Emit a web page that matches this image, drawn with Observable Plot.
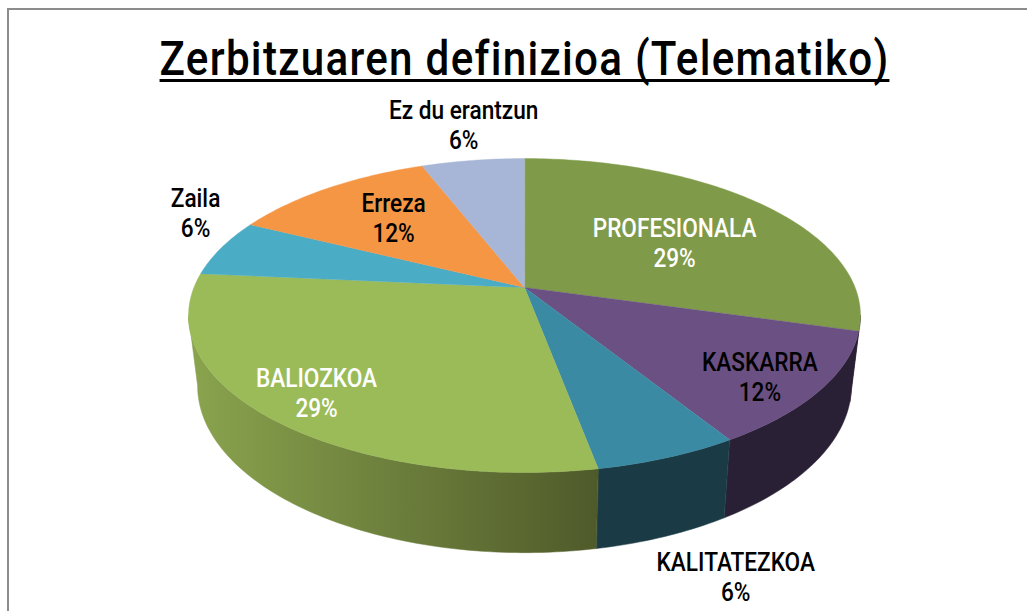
<!DOCTYPE html>
<html>
<head>
<meta charset="utf-8">
<script src="https://cdn.jsdelivr.net/npm/d3@7"></script>
<script src="https://cdn.jsdelivr.net/npm/@observablehq/plot@0.6"></script>
<style>
  html, body { margin: 0; padding: 0; background: #fff; overflow: hidden; width: 1027px; height: 611px; }
  #wrap { position: relative; width: 1027px; height: 611px; overflow: hidden; }
  #border { position: absolute; left: 7px; top: 8px; width: 1040px; height: 640px; border: 2px solid #8c8c8c; border-right: 0; border-bottom: 0; }
  #title { position: absolute; left: 0; width: 1049px; top: 30px; text-align: center; color: #000; white-space: nowrap;
    font: 500 49px/1.2 Roboto, "Liberation Sans", sans-serif; letter-spacing: 1.5px; text-decoration: underline; text-decoration-thickness: 3px; text-underline-offset: 4px; text-decoration-skip-ink: none;
    transform: scaleX(0.86); transform-origin: 524.5px 0; }
  #chart { position: absolute; left: 0; top: 0; }
  #chart svg { display: block; }
</style>
</head>
<body>
<div id="wrap">
  <div id="border"></div>
  <div id="chart"></div>
  <div id="title">Zerbitzuaren definizioa (Telematiko)</div>
</div>
<script>
// Data
const categories = ["PROFESIONALA", "KASKARRA", "KALITATEZKOA", "BALIOZKOA", "Zaila", "Erreza", "Ez du erantzun"];
const counts = [5, 2, 1, 5, 1, 2, 1];
const percentLabels = ["29%", "12%", "6%", "29%", "6%", "12%", "6%"];

// Styling
const topColors = ["#7f9a48", "#6a5083", "#3b8aa3", "#9bbb59", "#4bacc6", "#f59645", "#a7b6d6"];
const sideRamps = [
  ["#2a2035", "#2a2035"], ["#2a2035", "#2a2035"], ["#1a3b45", "#1a3b45"],
  ["#8aa44e", "#4f5a2a"], ["#2c6577", "#2c6577"], ["#93592a", "#93592a"], ["#62708a", "#62708a"]
];
const labelColors = ["#fff", "#000", "#000", "#fff", "#000", "#000", "#000"];
// label centres, in pie units (same scales as the pie)
const labelUnitX = [0.454, 0.712, 0.639, -0.629, -0.995, -0.396, -0.184];
const labelUnitY = [0.289, -0.592, -1.908, -0.697, 0.487, 0.454, 1.0625];

// Perspective of the pie disc, and the shift to its lower rim
const tilt = 0.1786;
const project = (a, r = 1) => {
  const X = r * Math.sin(a), Y = r * Math.cos(a), w = 1 + tilt * Y;
  return { x: X / w, y: Y / w };
};
const lower = (p) => ({ x: 0.973 * p.x, y: 1.064 * p.y - 0.449 });

const arcs = d3.pie().sort(null).value((d) => d)(counts);
const step = Math.PI / 180;
const sweep = (a0, a1) => {
  const n = Math.max(1, Math.ceil((a1 - a0) / step));
  return d3.range(n + 1).map((k) => a0 + (a1 - a0) * k / n);
};

// Top face: apex plus the arc, one closed polygon for each slice
const topFaces = arcs.flatMap((arc, i) => [
  { id: i, color: topColors[i], ...project(0, 0) },
  ...sweep(arc.startAngle, arc.endAngle).map((a) => ({ id: i, color: topColors[i], ...project(a) }))
]);

// Side wall: only the part of the rim between the two silhouette angles shows
const frontStart = (100.25 * Math.PI) / 180, frontEnd = (259.75 * Math.PI) / 180;
const sideWalls = arcs.map((arc, i) => {
  const a0 = Math.max(arc.startAngle, frontStart), a1 = Math.min(arc.endAngle, frontEnd);
  if (a1 <= a0) return null;
  const angles = sweep(a0, a1);
  return { i, points: [...angles.map((a) => project(a)), ...angles.slice().reverse().map((a) => lower(project(a)))] };
}).filter(Boolean);

const gradients = () => {
  const defs = d3.create("svg:defs");
  sideWalls.forEach(({ i }) => {
    const g = defs.append("linearGradient").attr("id", `side-${i}`);
    g.append("stop").attr("offset", "0%").attr("stop-color", sideRamps[i][0]);
    g.append("stop").attr("offset", "100%").attr("stop-color", sideRamps[i][1]);
  });
  return defs.node();
};

const labels = categories.map((c, i) => ({
  text: `${c}\n${percentLabels[i]}`, x: labelUnitX[i], y: labelUnitY[i], color: labelColors[i]
}));

const chart = Plot.plot({
  width: 1027, height: 611, margin: 0,
  style: { background: "transparent" },
  x: { domain: [-1, 1], range: [193.4, 854.6], axis: null },
  y: { domain: [-1, 1], range: [439, 135], axis: null },
  color: { type: "identity" },
  marks: [
    gradients,
    ...sideWalls.map(({ i, points }) =>
      Plot.line(points, { x: "x", y: "y", fill: `url(#side-${i})`, stroke: `url(#side-${i})`, strokeWidth: 0.5, curve: "linear-closed" })
    ),
    Plot.line(topFaces, { x: "x", y: "y", z: "id", fill: "color", stroke: "color", strokeWidth: 0.4, curve: "linear-closed" }),
    Plot.text(labels, {
      x: "x", y: "y", dy: -1.5, text: "text", fill: "color", lineHeight: 1.2,
      fontFamily: "Roboto, 'Liberation Sans', sans-serif", fontSize: 25, fontWeight: 500
    })
  ]
});
// The reference face is condensed: narrow every label around its own centre
d3.select(chart).selectAll("g[aria-label=text] text").each(function () {
  this.setAttribute("transform", `${this.getAttribute("transform") || ""} scale(0.905,1)`);
});
document.getElementById("chart").appendChild(chart);
</script>
</body>
</html>
